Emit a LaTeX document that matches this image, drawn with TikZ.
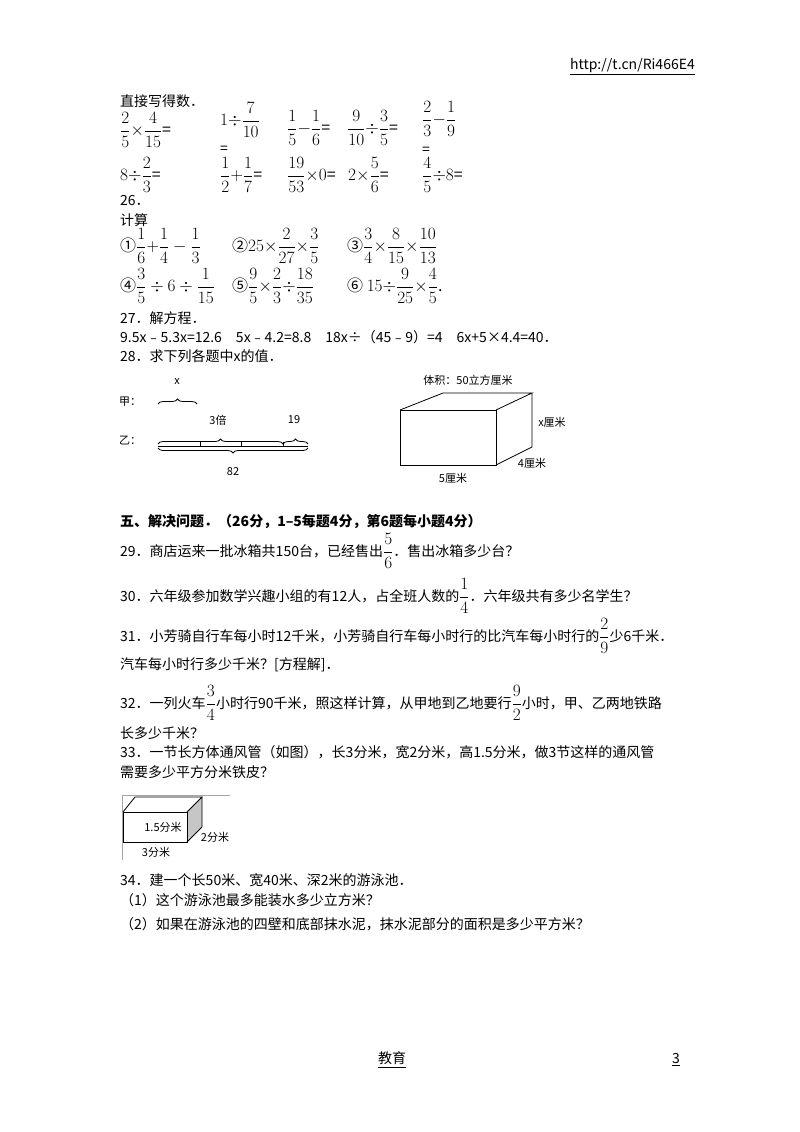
\documentclass[tikz,border=0pt]{standalone}
\usepackage{fontspec}
\usepackage{amsmath}
\setmainfont{Noto Sans CJK SC}
\usetikzlibrary{decorations.pathreplacing}
\begin{document}
\begin{tikzpicture}[x=1pt,y=-1pt,
  t/.style={anchor=west,inner sep=0pt,font=\fontsize{14}{16}\selectfont},
  m/.style={anchor=west,inner sep=0pt,font=\fontsize{16}{18}\selectfont},
  c/.style={inner sep=0pt,font=\fontsize{11}{13}\selectfont},
  br/.style={decorate,decoration={brace,amplitude=5pt}},
  ln/.style={line width=0.8pt}]
\useasboundingbox (0,0) rectangle (800,1132);
\node[t,anchor=east] (url) at (695,67) {\underline{http://t.cn/Ri466E4}};
\node[t] (h25) at (120,101) {直接写得数．};
\node[m] (a1) at (120,130) {$\displaystyle\frac{2}{5}{\times}\frac{4}{15}$=};
\node[m] (a2) at (220,120) {$1{\div}\displaystyle\frac{7}{10}$};
\node[t] (a2e) at (220,150) {=};
\node[m] (a3) at (287,128) {$\displaystyle\frac{1}{5}{-}\frac{1}{6}$=};
\node[m] (a4) at (347,128) {$\displaystyle\frac{9}{10}{\div}\frac{3}{5}$=};
\node[m] (a5) at (422,119) {$\displaystyle\frac{2}{3}{-}\frac{1}{9}$};
\node[t] (a5e) at (422,151) {=};
\node[m] (b1) at (120,175) {$8{\div}\displaystyle\frac{2}{3}$=};
\node[m] (b2) at (220,175) {$\displaystyle\frac{1}{2}{+}\frac{1}{7}$=};
\node[m] (b3) at (287,175) {$\displaystyle\frac{19}{53}{\times}0$=};
\node[m] (b4) at (348,175) {$2{\times}\displaystyle\frac{5}{6}$=};
\node[m] (b5) at (422,175) {$\displaystyle\frac{4}{5}{\div}8$=};
\node[t] (h26) at (120,201) {26．};
\node[t] (js) at (120,220) {计算};
\node[m] (c1) at (120,246) {①$\displaystyle\frac{1}{6}{+}\frac{1}{4}-\frac{1}{3}$};
\node[m] (c2) at (232,246) {②$25{\times}\displaystyle\frac{2}{27}{\times}\frac{3}{5}$};
\node[m] (c3) at (347,246) {③$\displaystyle\frac{3}{4}{\times}\frac{8}{15}{\times}\frac{10}{13}$};
\node[m] (c4) at (120,286) {④$\displaystyle\frac{3}{5}\div6\div\frac{1}{15}$};
\node[m] (c5) at (232,286) {⑤$\displaystyle\frac{9}{5}{\times}\frac{2}{3}{\div}\frac{18}{35}$};
\node[m] (c6) at (347,286) {⑥ $15{\div}\displaystyle\frac{9}{25}{\times}\frac{4}{5}$.};
\node[t] (h27) at (120,318) {27．解方程．};
\node[t] (eq) at (120,337) {9.5x﹣5.3x=12.6\quad 5x﹣4.2=8.8\quad 18x÷（45﹣9）=4\quad 6x+5×4.4=40．};
\node[t] (h28) at (120,356) {28．求下列各题中x的值．};
% diagram 1
\node[c] (jia) at (130,402) {甲：};
\draw[ln,br] (158,404) -- (197,404);
\node[c] (xl) at (177,382) {x};
\node[c] (yi) at (130,441) {乙：};
\coordinate (L) at (158,446); \coordinate (R) at (308,446);
\draw[ln] (L) -- (R);
\foreach \xx in {200,241,283} \draw[ln] (\xx,446) -- (\xx,442);
\draw[ln,br] (158,444) -- (283,444);
\draw[ln,br] (283,444) -- (308,444);
\draw[ln,br] (308,448) -- (158,448);
\node[c] (bei) at (218,420) {3倍};
\node[c] (n19) at (294,420) {19};
\node[c] (n82) at (233,472) {82};
% box
\coordinate (A) at (400,410); \coordinate (B) at (496,410);
\coordinate (C) at (496,465); \coordinate (D) at (400,465);
\coordinate (E) at (443,393); \coordinate (F) at (532,393); \coordinate (G) at (532,447);
\draw[ln] (A) -- (B) -- (C) -- (D) -- cycle;
\draw[ln] (A) -- (E) -- (F) -- (B) (F) -- (G) -- (C);
\node[c] (vol) at (468,380) {体积：50立方厘米};
\node[c] (xc) at (552,422) {x厘米};
\node[c] (c4c) at (532,463) {4厘米};
\node[c] (c5c) at (453,478) {5厘米};
% section 5
\node[t] (h5) at (120,522) {\textbf{五、解决问题．（26分，1--5每题4分，第6题每小题4分）}};
\node[t] (q29) at (120,551) {29．商店运来一批冰箱共150台，已经售出{\fontsize{17}{19}\selectfont$\displaystyle\frac{5}{6}$}．售出冰箱多少台？};
\node[t] (q30) at (120,596) {30．六年级参加数学兴趣小组的有12人，占全班人数的{\fontsize{17}{19}\selectfont$\displaystyle\frac{1}{4}$}．六年级共有多少名学生？};
\node[t] (q31) at (120,636) {31．小芳骑自行车每小时12千米，小芳骑自行车每小时行的比汽车每小时行的{\fontsize{17}{19}\selectfont$\displaystyle\frac{2}{9}$}少6千米．};
\node[t] (q31b) at (120,665) {汽车每小时行多少千米？[方程解]．};
\node[t] (q32) at (120,703) {32．一列火车{\fontsize{17}{19}\selectfont$\displaystyle\frac{3}{4}$}小时行90千米，照这样计算，从甲地到乙地要行{\fontsize{17}{19}\selectfont$\displaystyle\frac{9}{2}$}小时，甲、乙两地铁路};
\node[t] (q32b) at (120,733) {长多少千米？};
\node[t] (q33) at (120,752) {33．一节长方体通风管（如图），长3分米，宽2分米，高1.5分米，做3节这样的通风管};
\node[t] (q33b) at (120,772) {需要多少平方分米铁皮？};
% small box
\draw[gray!70] (122,860) -- (122,795) -- (230,795);
\coordinate (P) at (123,812); \coordinate (Q) at (187,812);
\coordinate (S) at (187,842); \coordinate (T) at (123,842);
\coordinate (U) at (135,797); \coordinate (V) at (202,797); \coordinate (W) at (202,827);
\fill[gray!45] (Q) -- (V) -- (W) -- (S) -- cycle;
\draw[ln] (P) -- (Q) -- (S) -- (T) -- cycle;
\draw[ln] (P) -- (U) -- (V) -- (Q) (V) -- (W) -- (S);
\node[c] (d15) at (163,827) {1.5分米};
\node[c] (d2) at (215,837) {2分米};
\node[c] (d3) at (156,852) {3分米};
\node[t] (q34) at (120,880) {34．建一个长50米、宽40米、深2米的游泳池．};
\node[t] (q34a) at (120,900) {（1）这个游泳池最多能装水多少立方米？};
\node[t] (q34b) at (120,924) {（2）如果在游泳池的四壁和底部抹水泥，抹水泥部分的面积是多少平方米？};
\node[t] (ft) at (378,1060) {\underline{教育}};
\node[t] (pg) at (672,1060) {\underline{3}};
\end{tikzpicture}
\end{document}
